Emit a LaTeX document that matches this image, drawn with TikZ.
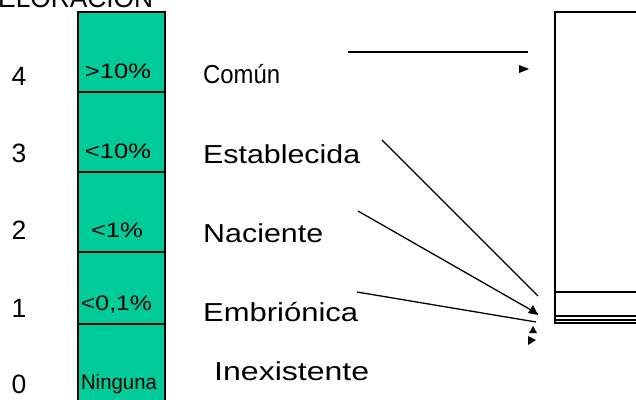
\documentclass[tikz,border=0pt]{standalone}
\usepackage{fontspec}
\usepackage{graphicx}
\setmainfont{Liberation Sans}
\newcommand{\fitw}[2]{\resizebox{#1pt}{\height}{#2}}
\definecolor{cellgreen}{RGB}{0,204,153}
\begin{document}
\begin{tikzpicture}[x=1pt,y=-1pt,
  cell/.style={fill=cellgreen,draw=black,line width=1.4pt},
  celltext/.style={font=\fontsize{21}{21}\selectfont,inner sep=0pt,anchor=base},
  lvl/.style={font=\fontsize{26.5}{26.5}\selectfont,inner sep=0pt,anchor=base},
  lab/.style={font=\fontsize{26}{26}\selectfont,inner sep=0pt,anchor=base west},
  conn/.style={line width=1.3pt},
  boxline/.style={line width=1.4pt},
  tip/.style={fill=black}]
\useasboundingbox (0,0) rectangle (636,399);
\clip (0,0) rectangle (636,399);
% top title (clipped)
\node[font=\fontsize{27}{27}\selectfont,inner sep=0pt,anchor=base west] (title) at (-2,7) {\fitw{155}{ELORACIÓN}};
% column
\draw[cell] (78,12) rectangle (165,92);
\draw[cell] (78,92) rectangle (165,172);
\draw[cell] (78,172) rectangle (165,252);
\draw[cell] (78,252) rectangle (165,324);
\draw[cell] (78,324) rectangle (165,410);
\node[celltext] (c4) at (118,78) {\fitw{66}{>10\%}};
\node[celltext] (c3) at (118,158) {\fitw{66}{<10\%}};
\node[celltext] (c2) at (117,237) {\fitw{52}{<1\%}};
\node[celltext] (c1) at (116.5,310) {\fitw{71}{<0,1\%}};
\node[celltext] (c0) at (119,389) {\fitw{76}{Ninguna}};
% level numbers
\node[lvl] (n4) at (19,85) {4};
\node[lvl] (n3) at (19,162) {3};
\node[lvl] (n2) at (19,239) {2};
\node[lvl] (n1) at (19,317) {1};
\node[lvl] (n0) at (19,393) {0};
% labels
\node[lab] (comun) at (203,83) {\fitw{77}{Común}};
\node[lab] (estab) at (203,163) {\fitw{157}{Establecida}};
\node[lab] (nac) at (203,242) {\fitw{120}{Naciente}};
\node[lab] (embr) at (203,321) {\fitw{155}{Embriónica}};
\node[lab] (inex) at (214,380) {\fitw{155}{Inexistente}};
% right box
\draw[boxline] (640,12) -- (555,12) -- (555,323) -- (640,323);
\draw[boxline] (555,292) -- (640,292);
\draw[boxline] (555,316) -- (640,316);
\draw[boxline] (555,320) -- (640,320);
% connectors
\coordinate (s0) at (348,52);
\coordinate (e0) at (528,52);
\draw[conn] (s0) -- (e0);
\fill[tip] (519,65) -- (529,69) -- (519,73) -- cycle;
\coordinate (s1) at (382,140);
\coordinate (e1) at (538,296);
\draw[conn] (s1) -- (e1);
\coordinate (s2) at (358,211);
\coordinate (e2) at (538,314);
\draw[conn] (s2) -- (e2);
\fill[tip] (538,315) -- (528,313) -- (533,305) -- cycle;
\coordinate (s3) at (357,292);
\coordinate (e3) at (536,322);
\draw[conn] (s3) -- (e3);
\fill[tip] (529,333) -- (537,333) -- (533,326) -- cycle;
\fill[tip] (528,336) -- (536,340) -- (528,345) -- cycle;
\end{tikzpicture}
\end{document}
